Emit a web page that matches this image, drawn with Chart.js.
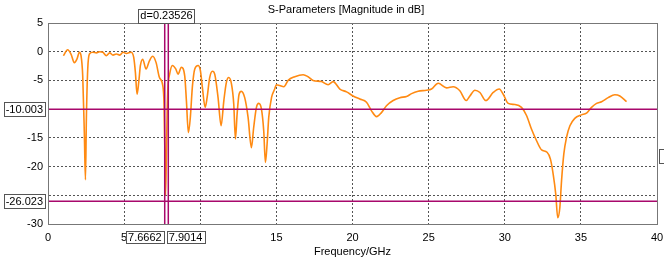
<!DOCTYPE html>
<html>
<head>
<meta charset="utf-8">
<script src="https://cdn.jsdelivr.net/npm/chart.js@4.4.0/dist/chart.umd.min.js"></script>
<style>
  html, body { margin: 0; padding: 0; background: #fff; }
</style>
</head>
<body>
<canvas id="chart" width="664" height="260"></canvas>
<script>
// S11 trace (GHz / dB)
const freqGHz = [
  1.01, 1.29, 1.51, 1.73, 1.9, 2.06, 2.17, 2.28, 2.39, 2.46, 2.52, 2.61, 2.72, 2.94,
  3.18, 3.4, 3.61, 3.83, 4.05, 4.27, 4.49, 4.71, 4.93, 5.15, 5.46, 5.63, 5.74, 5.85,
  5.96, 6.07, 6.22, 6.44, 6.66, 6.88, 7.1, 7.32, 7.54, 7.62, 7.68, 7.72, 7.77, 7.83,
  7.88, 7.99, 8.17, 8.39, 8.54, 8.76, 8.98, 9.09, 9.22, 9.35, 9.48, 9.64, 9.86, 10.01,
  10.14, 10.32, 10.45, 10.62, 10.8, 10.95, 11.17, 11.37, 11.55, 11.72, 11.87, 12.05,
  12.2, 12.31, 12.42, 12.55, 12.7, 12.92, 13.14, 13.36, 13.51, 13.69, 13.84, 14.02,
  14.17, 14.28, 14.39, 14.5, 14.68, 14.89, 15.0, 15.22, 15.49, 15.77, 16.21, 16.76,
  17.08, 17.41, 17.96, 18.4, 18.73, 19.17, 19.61, 20.04, 20.48, 20.92, 21.25, 21.58,
  21.9, 22.23, 22.67, 23.11, 23.55, 23.88, 24.31, 24.86, 25.19, 25.63, 26.18, 26.61,
  27.05, 27.47, 27.71, 28.04, 28.37, 28.76, 29.24, 29.64, 29.9, 30.23, 30.67, 31.1,
  31.43, 31.76, 32.09, 32.42, 32.78, 33.0, 33.18, 33.35, 33.48, 33.62, 33.73, 33.88,
  34.06, 34.28, 34.6, 35.04, 35.37, 35.7, 36.03, 36.36, 36.79, 37.23, 37.56, 38.0
];
const magDb = [
  -0.7, 0.35, -0.4, -1.9, -1.3, -0.1, -0.7, -4.2, -14.6, -22.3, -11.7, -3.0, -0.4, -0.1,
  -0.2, 0, -0.1, -0.7, -0.2, -0.6, -0.4, -0.6, -0.1, -0.3, -0.1, -1.0, -3.6, -7.4,
  -5.3, -2.4, -1.3, -3.0, -1.6, -0.8, -1.9, -4.5, -5.9, -9, -18, -25, -19, -10,
  -6.2, -3.9, -2.4, -3.0, -3.9, -2.7, -4.2, -8.5, -14.1, -11.4, -6.2, -3.0, -2.4, -3.3,
  -6.2, -9.7, -8.0, -4.5, -3.4, -3.9, -8.0, -12.9, -8.5, -5.3, -4.5, -5.6,
  -9.1, -15.2, -10.9, -7.4, -6.9, -8.0, -11.4, -16.7, -13.2, -9.7, -9.0, -10.0,
  -13.8, -19.3, -16.1, -11.4, -8.0, -6.5, -5.75, -5.9, -6.1, -5.0, -4.35, -4.0,
  -4.35, -5.0, -5.2, -5.75, -5.2, -6.5, -7.0, -7.7, -8.25, -8.8, -10.3, -11.3,
  -10.6, -9.4, -8.5, -8.0, -7.8, -7.3, -6.9, -6.7, -6.5, -5.5, -6.3, -6.1,
  -6.8, -8.5, -7.7, -6.7, -7.1, -8.5, -7.1, -6.5, -7.4, -9.0, -9.2, -9.7,
  -11.1, -13.5, -15.5, -17.1, -17.5, -18.7, -21.3, -24.8, -28.9, -27.1, -22.5, -17.8,
  -14.9, -12.9, -11.6, -11.0, -10.7, -9.7, -9.0, -8.7, -8.0, -7.5, -7.7, -8.7
];

const xTicks = [0, 5, 10, 15, 20, 25, 30, 35, 40];
const yTicks = [5, 0, -5, -10, -15, -20, -25, -30];

// markers
const markerFreqs = [7.6662, 7.9014];
const markerLevels = [-10.003, -26.023];
const markerDelta = "d=0.23526";
const sideLevel = -18.1; // clipped readout box on the right edge

const chartTitle = "S-Parameters [Magnitude in dB]";
const xTitle = "Frequency/GHz";

const FONT = "'Liberation Sans', Arial, sans-serif";
const markerColor = "#a8086c";

Chart.defaults.font.family = FONT;
Chart.defaults.font.size = 11;
Chart.defaults.color = "#000";

const markerSets = [
  ...markerFreqs.map((f) => ({
    data: [{ x: f, y: yTicks[yTicks.length - 1] }, { x: f, y: yTicks[0] }],
    borderColor: markerColor, borderWidth: 1.5, pointRadius: 0
  })),
  ...markerLevels.map((l) => ({
    data: [{ x: xTicks[0], y: l }, { x: xTicks[xTicks.length - 1], y: l }],
    borderColor: markerColor, borderWidth: 1.5, pointRadius: 0
  }))
];

// tick labels that sit under a marker readout are not shown
const hideNear = (list, gap) => (v) => (list.some((m) => Math.abs(m - v) < gap) ? "" : String(v));

function box(ctx, text, left, top, w, h) {
  ctx.fillStyle = "#fff";
  ctx.fillRect(left, top, w, h);
  ctx.strokeStyle = "#555";
  ctx.lineWidth = 1;
  ctx.strokeRect(Math.round(left) + 0.5, Math.round(top) + 0.5, Math.round(w), Math.round(h));
  ctx.fillStyle = "#000";
  ctx.textAlign = "center";
  ctx.textBaseline = "middle";
  ctx.fillText(text, left + w / 2, top + h / 2 + 0.5);
}

const decorations = {
  id: "decorations",
  afterDraw(chart) {
    const { ctx, chartArea: a, scales } = chart;
    const xs = scales.x, ys = scales.y;
    ctx.save();
    // plot frame
    ctx.strokeStyle = "#777";
    ctx.lineWidth = 1;
    ctx.strokeRect(Math.round(a.left) + 0.5, Math.round(a.top) + 0.5,
      Math.round(a.right - a.left), Math.round(a.bottom - a.top));

    ctx.font = "11px " + FONT;
    // title
    ctx.fillStyle = "#000";
    ctx.textAlign = "center";
    ctx.textBaseline = "middle";
    ctx.fillText(chartTitle, 346, 10);

    // level readouts on the left
    markerLevels.forEach((l) => {
      const y = ys.getPixelForValue(l);
      const w = ctx.measureText(l.toFixed(3)).width + 4;
      box(ctx, l.toFixed(3), a.left - 3 - w, y - 7, w, 14);
    });

    // frequency readouts under the axis
    const x1 = xs.getPixelForValue(markerFreqs[0]);
    const x2 = xs.getPixelForValue(markerFreqs[1]);
    const t1 = markerFreqs[0].toFixed(4), t2 = markerFreqs[1].toFixed(4);
    const w1 = ctx.measureText(t1).width + 4, w2 = ctx.measureText(t2).width + 4;
    box(ctx, t1, x1 - 1 - w1, a.bottom + 7, w1, 12);
    box(ctx, t2, x2 - 1.5, a.bottom + 7, w2, 12);

    // delta readout above
    const wd = ctx.measureText(markerDelta).width + 4;
    box(ctx, markerDelta, (x1 + x2) / 2 - wd / 2, a.top - 14.5, wd, 14);

    // clipped box on the right edge
    const ys2 = ys.getPixelForValue(sideLevel);
    box(ctx, "", a.right + 2, ys2 - 7, 20, 14);
    ctx.restore();
  }
};

new Chart(document.getElementById("chart"), {
  type: "line",
  data: {
    datasets: [
      ...markerSets,
      {
        data: freqGHz.map((f, i) => ({ x: f, y: magDb[i] })),
        borderColor: "#ff8a12",
        borderWidth: 1.6,
        pointRadius: 0,
        cubicInterpolationMode: "monotone"
      }
    ]
  },
  options: {
    responsive: false,
    devicePixelRatio: 1,
    animation: false,
    layout: { padding: { top: 23, right: 7, left: 0, bottom: 0 } },
    plugins: {
      legend: { display: false },
      tooltip: { enabled: false },
      title: { display: false }
    },
    scales: {
      x: {
        type: "linear",
        min: xTicks[0],
        max: xTicks[xTicks.length - 1],
        afterBuildTicks: (s) => { s.ticks = xTicks.map((v) => ({ value: v })); },
        afterFit: (s) => { s.height = 36; s.paddingLeft = 0; s.paddingRight = 0; },
        ticks: { padding: 7, maxRotation: 0, autoSkip: false, callback: hideNear(markerFreqs, 2.5) },
        grid: { color: "#555", drawTicks: false },
        border: { display: true, color: "#666", dash: [2, 2] },
        title: { display: true, text: xTitle, padding: { top: 0, bottom: 1 } }
      },
      y: {
        type: "linear",
        min: yTicks[yTicks.length - 1],
        max: yTicks[0],
        afterBuildTicks: (s) => { s.ticks = yTicks.map((v) => ({ value: v })); },
        afterFit: (s) => { s.width = 48; s.paddingTop = 0; s.paddingBottom = 0; },
        ticks: { padding: 5, autoSkip: false, callback: hideNear(markerLevels, 1.5) },
        grid: { color: "#555", drawTicks: false },
        border: { display: true, color: "#666", dash: [2, 2] }
      }
    }
  },
  plugins: [decorations]
});
</script>
</body>
</html>
